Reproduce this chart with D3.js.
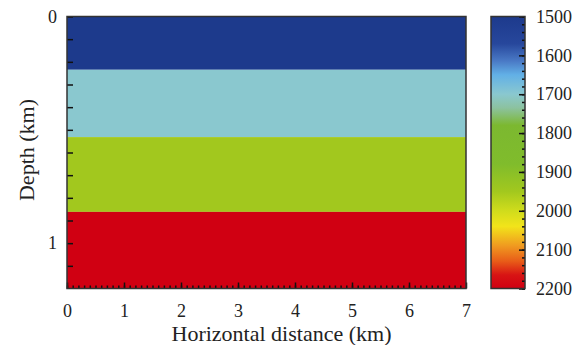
<!DOCTYPE html>
<html>
<head>
<meta charset="utf-8">
<script src="https://cdn.jsdelivr.net/npm/d3@7"></script>
<style>
  body { margin: 0; background: #fff; }
</style>
</head>
<body>
<div id="chart"></div>
<script>
// Layer model: top depth of each layer (km) and its velocity (m/s)
var layerTops = [0, 0.235, 0.532, 0.862];
var layerVelocities = [1500, 1700, 1950, 2200];
var maxDepth = 1.2;
var maxDistance = 7;

// Tick labels
var xTickLabels = [0, 1, 2, 3, 4, 5, 6, 7];
var yTickLabels = [0, 1];
var cbTickLabels = [1500, 1600, 1700, 1800, 1900, 2000, 2100, 2200];

// Colour map stops (velocity -> colour)
var cmapValues = [1500, 1570, 1615, 1650, 1700, 1735, 1780, 1880, 1950, 2000, 2040, 2090, 2130, 2165, 2200];
var cmapColors = ['#1d3a8c', '#27479c', '#4a7ac6', '#62b0e6', '#8ac8cf', '#8cc2a0', '#7cb830',
                  '#80bc2c', '#a2c81e', '#d0dc1c', '#f2e41a', '#f09a20', '#e85c18', '#d81414', '#d00012'];

var FONT = "'Liberation Serif', serif";
var W = 582, H = 345;
var plot = { left: 67, right: 466, top: 16.5, bottom: 288.5 };
var cb = { left: 491, right: 525 };

var svg = d3.select('#chart').append('svg')
  .attr('width', W).attr('height', H);
svg.append('rect').attr('width', W).attr('height', H).attr('fill', '#fff');

var x = d3.scaleLinear().domain([0, maxDistance]).range([plot.left, plot.right]);
var y = d3.scaleLinear().domain([0, maxDepth]).range([plot.top, plot.bottom]);
var color = d3.scaleLinear().domain(cmapValues).range(cmapColors).clamp(true);

// Layers
var layers = layerTops.map(function (t, i) {
  return { top: t, bottom: i < layerTops.length - 1 ? layerTops[i + 1] : maxDepth, v: layerVelocities[i] };
});
svg.selectAll('.layer')
  .data(layers)
  .enter().append('rect')
  .attr('class', 'layer')
  .attr('x', x(0))
  .attr('y', function (d) { return y(d.top); })
  .attr('width', x(maxDistance) - x(0))
  .attr('height', function (d) { return y(d.bottom) - y(d.top); })
  .attr('fill', function (d) { return color(d.v); });

// style axis: serif text, dark inward ticks
function styleAxis(g) {
  g.select('.domain').remove();
  g.attr('font-family', 'Liberation Serif').attr('font-size', 18);
  g.selectAll('text').attr('font-family', 'Liberation Serif').attr('font-size', 18)
    .style('font-family', FONT).style('font-size', '18px').attr('fill', '#222');
  g.selectAll('line').attr('stroke', '#111').attr('stroke-width', 1.5);
}

// X axis: minor ticks every 0.1 km, major at integers
svg.append('g')
  .attr('transform', 'translate(0,' + plot.bottom + ')')
  .call(d3.axisBottom(x).tickValues(d3.range(0, 70).map(function (i) { return i / 10; }))
    .tickSize(-3).tickFormat(''))
  .call(styleAxis);
svg.append('g')
  .attr('transform', 'translate(0,' + plot.bottom + ')')
  .call(d3.axisBottom(x).tickValues(xTickLabels).tickSize(-6).tickPadding(16).tickFormat(d3.format('d')))
  .call(styleAxis);

// Y axis: ticks every 0.1 km, labels at 0 and 1
svg.append('g')
  .attr('transform', 'translate(' + plot.left + ',0)')
  .call(d3.axisLeft(y).tickValues(d3.range(0, 12).map(function (i) { return i / 10; }))
    .tickSize(-6).tickFormat(''))
  .call(styleAxis);
svg.append('g')
  .attr('transform', 'translate(' + plot.left + ',0)')
  .call(d3.axisLeft(y).tickValues(yTickLabels).tickSize(0).tickPadding(10).tickFormat(d3.format('d')))
  .call(styleAxis);

// Plot frame
svg.append('rect')
  .attr('x', plot.left).attr('y', plot.top)
  .attr('width', plot.right - plot.left).attr('height', plot.bottom - plot.top)
  .attr('fill', 'none').attr('stroke', '#333').attr('stroke-width', 1.5);

// Axis titles
svg.append('text')
  .attr('x', (plot.left + plot.right) / 2 + 15).attr('y', 341)
  .attr('text-anchor', 'middle')
  .attr('font-family', 'Liberation Serif').attr('font-size', 22)
  .style('font-family', FONT).style('font-size', '22px').attr('fill', '#222')
  .text('Horizontal distance (km)');
svg.append('text')
  .attr('transform', 'translate(34,' + 150 + ') rotate(-90)')
  .attr('text-anchor', 'middle')
  .attr('font-family', 'Liberation Serif').attr('font-size', 22)
  .style('font-family', FONT).style('font-size', '22px').attr('fill', '#222')
  .text('Depth (km)');

// Colour bar
var cbScale = d3.scaleLinear().domain([1500, 2200]).range([plot.top, plot.bottom]);
var defs = svg.append('defs');
var grad = defs.append('linearGradient').attr('id', 'cbgrad')
  .attr('x1', 0).attr('y1', 0).attr('x2', 0).attr('y2', 1);
grad.selectAll('stop')
  .data(cmapValues)
  .enter().append('stop')
  .attr('offset', function (d) { return (d - 1500) / 700; })
  .attr('stop-color', function (d) { return color(d); });

svg.append('rect')
  .attr('x', cb.left).attr('y', plot.top)
  .attr('width', cb.right - cb.left).attr('height', plot.bottom - plot.top)
  .attr('fill', 'url(#cbgrad)');

svg.append('g')
  .attr('transform', 'translate(' + cb.right + ',0)')
  .call(d3.axisRight(cbScale).tickValues(d3.range(1500, 2201, 20)).tickSize(-3).tickFormat(''))
  .call(styleAxis);
svg.append('g')
  .attr('transform', 'translate(' + cb.right + ',0)')
  .call(d3.axisRight(cbScale).tickValues(cbTickLabels).tickSize(-6).tickPadding(11).tickFormat(d3.format('d')))
  .call(styleAxis);

svg.append('rect')
  .attr('x', cb.left).attr('y', plot.top)
  .attr('width', cb.right - cb.left).attr('height', plot.bottom - plot.top)
  .attr('fill', 'none').attr('stroke', '#333').attr('stroke-width', 1.5);
</script>
</body>
</html>
